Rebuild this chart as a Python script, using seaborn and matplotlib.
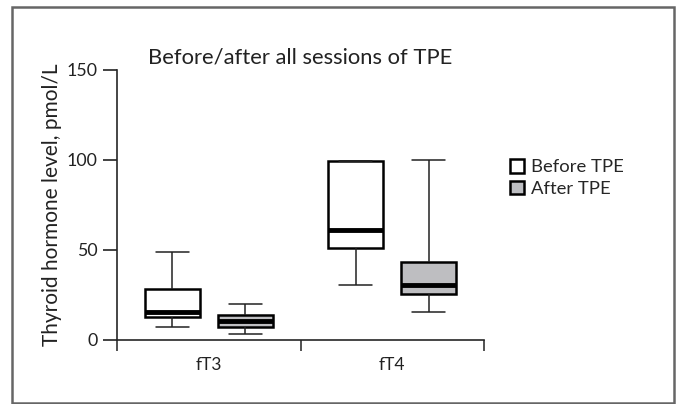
import numpy as np
import pandas as pd
import seaborn as sns
import matplotlib.pyplot as plt
from matplotlib.patches import Patch, Rectangle

# five-number summaries: min, q1, median, q3, max
hormones = ['fT3', 'fT4']
timings = ['Before TPE', 'After TPE']
ft3_before = [7.0, 12.8, 15.5, 28.5, 49.0]
ft3_after = [3.5, 7.2, 10.5, 13.9, 20.0]
ft4_before = [30.7, 51.0, 61.0, 99.4, 99.4]
ft4_after = [15.4, 25.4, 30.5, 43.3, 100.2]
colori = {'Before TPE': 'white', 'After TPE': '#bdbec2'}

righe = []
for ormone, tempo, valori in [('fT3', 'Before TPE', ft3_before), ('fT3', 'After TPE', ft3_after),
                              ('fT4', 'Before TPE', ft4_before), ('fT4', 'After TPE', ft4_after)]:
    for v in valori:
        righe.append({'hormone': ormone, 'timing': tempo, 'value': v})
df = pd.DataFrame(righe)

sns.set_style('ticks')
plt.rcParams['font.family'] = ['Lato', 'DejaVu Sans']

fig = plt.figure(figsize=(6.76, 4.04), dpi=100)
ax = fig.add_axes([117 / 676, 64 / 404, 367 / 676, 270 / 404])

sns.boxplot(data=df, x='hormone', y='value', hue='timing', order=hormones, hue_order=timings,
            palette=colori, whis=(0, 100), width=0.8, gap=0.25, fliersize=0,
            linecolor='black', linewidth=1.2, legend=False, ax=ax,
            boxprops={'linewidth': 1.8},
            medianprops={'linewidth': 3.5, 'color': 'black'},
            whiskerprops={'linewidth': 1.1, 'color': '#222222'},
            capprops={'linewidth': 1.1, 'color': '#222222'})

# allarga un po' i cappucci dei baffi
for linea in ax.lines:
    xs, ys = linea.get_xdata(), linea.get_ydata()
    if len(xs) == 2 and ys[0] == ys[1] and abs(xs[1] - xs[0]) < 0.2:
        centro = (xs[0] + xs[1]) / 2
        linea.set_xdata([centro - 0.09, centro + 0.09])

ax.set_xlim(-0.5, 1.5)
ax.set_ylim(0, 150)
ax.set_yticks([0, 50, 100, 150])
ax.set_xticks([0, 1])
ax.set_xticklabels(hormones)
ax.set_xticks([-0.5, 0.5, 1.5], minor=True)
ax.tick_params(axis='x', which='major', length=0, labelsize=12.5, pad=12, colors='#222222')
ax.tick_params(axis='x', which='minor', length=8, width=1.2, color='#333333')
ax.tick_params(axis='y', length=10, width=1.2, labelsize=12.8, pad=4, colors='#222222')
ax.set_xlabel('')
ax.set_ylabel('Thyroid hormone level, pmol/L', fontsize=15, color='#222222', labelpad=3.5)
for lato in ['left', 'bottom']:
    ax.spines[lato].set_linewidth(1.2)
sns.despine(ax=ax)

ax.text(0.5, 1.045, 'Before/after all sessions of TPE', transform=ax.transAxes,
        ha='center', va='center', fontsize=15.8, color='#222222')

maniglie = [Patch(facecolor=colori[t], edgecolor='black', linewidth=1.8, label=t) for t in timings]
ax.legend(handles=maniglie, loc='center left', bbox_to_anchor=(1.05, 0.6), frameon=False,
          fontsize=13.3, handlelength=0.75, handleheight=0.75, handletextpad=0.4,
          labelspacing=0.3, borderaxespad=0)

# cornice esterna
fig.patches.append(Rectangle((12 / 676, 1 / 404), 662 / 676, 396 / 404, transform=fig.transFigure,
                             fill=False, edgecolor='#666666', linewidth=1.8))

fig.savefig('out.png', dpi=100)
